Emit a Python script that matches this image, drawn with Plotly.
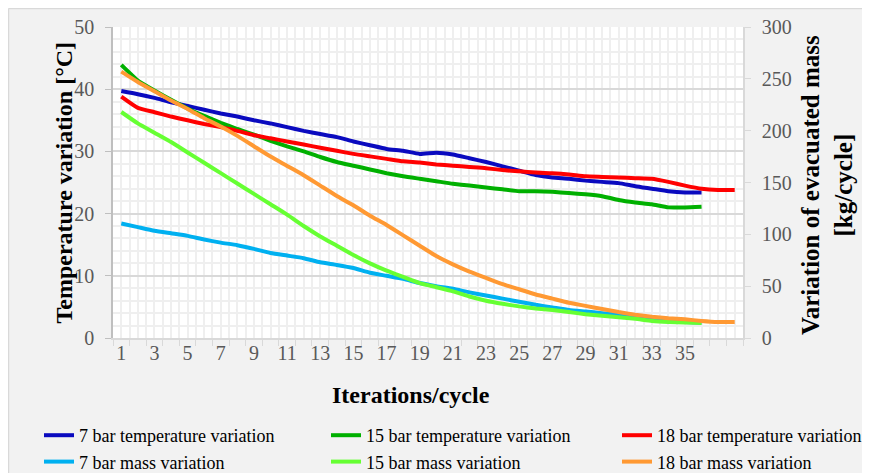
import plotly.graph_objects as go

# ---------------- data ----------------
iterations = list(range(1, 39))
x_tick_labels = ["1", "", "3", "", "5", "", "7", "", "9", "", "11", "", "13", "",
                 "15", "", "17", "", "19", "", "21", "", "23", "", "25", "", "27", "",
                 "29", "", "31", "", "33", "", "35", "", "", ""]

temp_7bar = [39.7, 39.2, 38.6, 37.9, 37.3, 36.7, 36.1, 35.6, 35.0, 34.5, 33.9, 33.3,
             32.8, 32.3, 31.6, 31.0, 30.4, 30.1, 29.6, 29.8, 29.5, 28.9, 28.3, 27.6,
             26.9, 26.2, 25.8, 25.6, 25.3, 25.1, 24.9, 24.4, 24.0, 23.6, 23.4, 23.4]
temp_15bar = [43.9, 41.4, 39.8, 38.3, 36.9, 35.7, 34.6, 33.6, 32.7, 31.7, 30.8, 30.0,
              29.1, 28.3, 27.7, 27.1, 26.5, 26.0, 25.6, 25.2, 24.8, 24.5, 24.2, 23.9,
              23.6, 23.6, 23.5, 23.3, 23.1, 22.8, 22.2, 21.8, 21.5, 21.0, 21.0, 21.1]
temp_18bar = [38.8, 37.0, 36.3, 35.6, 35.0, 34.4, 33.9, 33.3, 32.6, 32.1, 31.6, 31.1,
              30.6, 30.1, 29.6, 29.2, 28.8, 28.4, 28.2, 27.9, 27.7, 27.5, 27.3, 27.0,
              26.8, 26.6, 26.5, 26.3, 26.0, 25.9, 25.8, 25.7, 25.6, 25.1, 24.5, 24.0,
              23.8, 23.8]
mass_7bar = [110.5, 107, 103.5, 101, 98.5, 95, 92, 89.5, 86, 82, 79.5, 77, 73, 70.5,
             67.5, 63, 60, 57, 53, 50, 47.5, 44, 41, 38, 35, 32, 29.5, 27, 25.5, 24,
             22.5, 20, 18, 16.5, 15.5, 14.8]
mass_15bar = [218, 207, 198, 189, 179, 169, 159, 149, 139, 129, 119, 108, 98, 89, 80,
              72, 65, 59, 53, 49, 45, 40, 36, 33, 30.5, 28.5, 27, 25, 23, 21.5, 20,
              18.5, 16.5, 15.5, 15, 14.5]
mass_18bar = [257, 247, 238, 229, 221, 212, 204, 195, 185, 175, 166, 157, 147, 137, 128,
              118, 109, 99, 89, 79, 71, 64, 58, 52, 47, 42, 38, 34, 31, 28, 25, 22.5,
              20.5, 19, 18, 16.5, 15.5, 15.5]

series = [
    ("7 bar temperature variation", temp_7bar, "y", "#0a0abf", "legend"),
    ("15 bar temperature variation", temp_15bar, "y", "#00b000", "legend2"),
    ("18 bar temperature variation", temp_18bar, "y", "#ff0000", "legend3"),
    ("7 bar mass variation", mass_7bar, "y2", "#00b0f0", "legend"),
    ("15 bar mass variation", mass_15bar, "y2", "#66ff33", "legend2"),
    ("18 bar mass variation", mass_18bar, "y2", "#ff9933", "legend3"),
]

# ---------------- layout geometry (figure pixels; page has an 8px body margin) ----------------
W, H = 862, 465
L, R, T, B = 105, 127, 19, 135
PW, PH = W - L - R, H - T - B


def px_x(px):
    return (px - L) / PW


def px_y(py):
    return (H - B - py) / PH


FONT = "Liberation Serif, Times New Roman, serif"
TICK_COLOR = "#595959"

fig = go.Figure()
for name, vals, yax, col, leg in series:
    fig.add_trace(go.Scatter(
        x=iterations[:len(vals)], y=vals, name=name, yaxis=yax, mode="lines",
        legend=leg, legendgroup=name,
        line=dict(color=col, width=4, shape="spline", smoothing=0.5),
    ))


def legend_box(px_left):
    return dict(
        orientation="v", xref="paper", yref="paper",
        x=px_x(px_left), xanchor="left", y=px_y(409), yanchor="top",
        font=dict(family=FONT, size=18, color="#000000"),
        bgcolor="rgba(0,0,0,0)", traceorder="normal", tracegroupgap=2,
    )


fig.update_layout(
    width=W, height=H,
    margin=dict(l=L, r=R, t=T, b=B, autoexpand=False),
    paper_bgcolor="#f2f2f2",
    plot_bgcolor="#ffffff",
    font=dict(family=FONT, color="#000000"),
    showlegend=True,
    legend=legend_box(31),
    legend2=legend_box(318),
    legend3=legend_box(609),
    xaxis=dict(
        range=[0.5, 38.5], tickmode="array", tickvals=iterations, ticktext=x_tick_labels,
        ticks="", showgrid=True, gridcolor="#efefef", gridwidth=2,
        showline=True, linecolor="#d9d9d9", linewidth=1.5, zeroline=False,
        ticklabelstandoff=-4,
        tickfont=dict(family=FONT, size=20, color=TICK_COLOR),
        minor=dict(tick0=0.5, dtick=1, ticks="outside", ticklen=6, tickcolor="#d9d9d9",
                   showgrid=True, gridcolor="#efefef", gridwidth=2),
    ),
    yaxis=dict(
        range=[0, 50], dtick=10, ticks="outside", ticklen=6, tickcolor="#bfbfbf",
        showline=True, linecolor="#bfbfbf", linewidth=1.5, zeroline=False,
        showgrid=True, gridcolor="#d9d9d9", gridwidth=1.5,
        ticklabelstandoff=7,
        tickfont=dict(family=FONT, size=20, color=TICK_COLOR),
        minor=dict(dtick=2, showgrid=True, gridcolor="#efefef", gridwidth=2),
    ),
    yaxis2=dict(
        overlaying="y", side="right", range=[0, 300], dtick=50,
        ticks="outside", ticklen=6, tickcolor="#d9d9d9",
        showline=True, linecolor="#d9d9d9", linewidth=1.5, showgrid=False, zeroline=False,
        ticklabelstandoff=7,
        tickfont=dict(family=FONT, size=20, color=TICK_COLOR),
    ),
    annotations=[
        dict(text="<b>Temperature variation [°C]</b>", xref="paper", yref="paper",
             x=px_x(55), y=0.5, xanchor="center", yanchor="middle", textangle=-90,
             showarrow=False, font=dict(family=FONT, size=24, color="#000000")),
        dict(text="<b>Variation of evacuated mass<br>[kg/cycle]</b>", xref="paper", yref="paper",
             x=px_x(819), y=px_y(177), xanchor="center", yanchor="middle", textangle=-90,
             showarrow=False, font=dict(family=FONT, size=25, color="#000000")),
        dict(text="<b>Iterations/cycle</b>", xref="paper", yref="paper",
             x=px_x(403), y=px_y(387), xanchor="center", yanchor="middle",
             showarrow=False, font=dict(family=FONT, size=24, color="#000000")),
    ],
    shapes=[
        dict(type="line", xref="paper", yref="paper", x0=px_x(0.5), x1=px_x(W),
             y0=px_y(0.5), y1=px_y(0.5), line=dict(color="#d9d9d9", width=1.5)),
        dict(type="line", xref="paper", yref="paper", x0=px_x(0.5), x1=px_x(0.5),
             y0=px_y(0.5), y1=px_y(H), line=dict(color="#d9d9d9", width=1.5)),
    ],
)

fig.write_html("out.html")
